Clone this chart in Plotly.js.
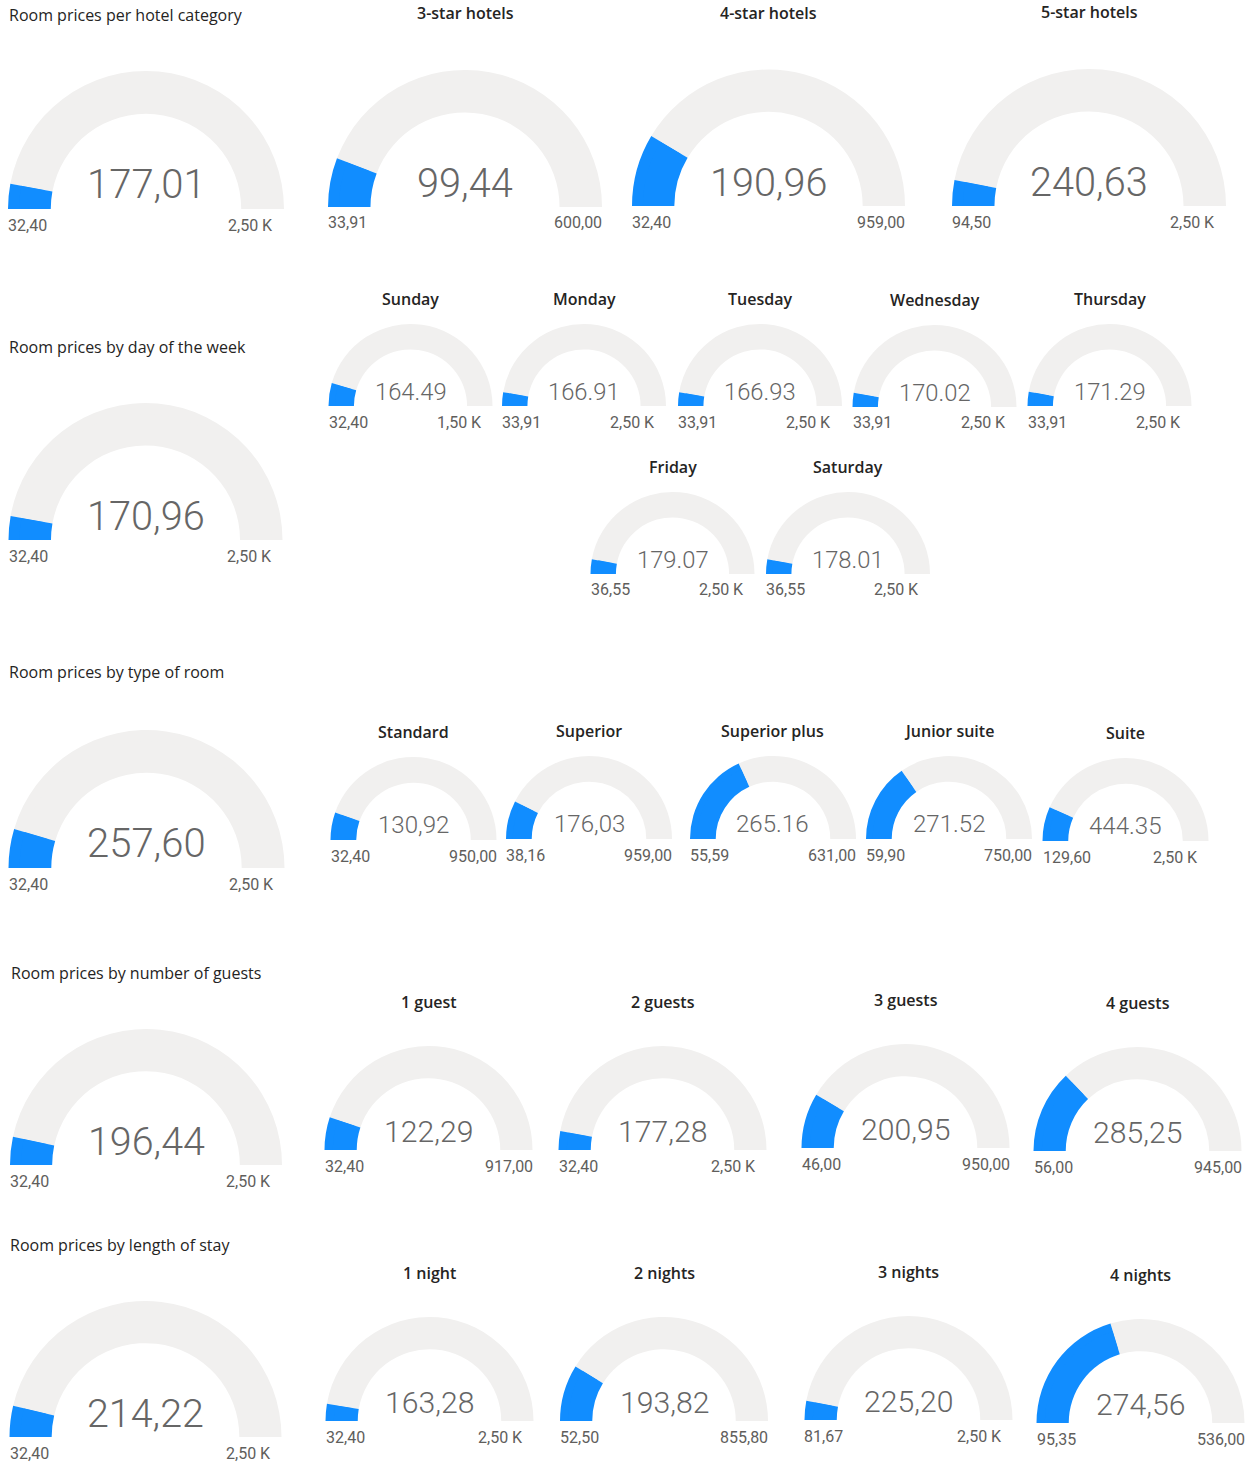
<!DOCTYPE html>
<html><head><meta charset="utf-8">
<script src="https://cdn.plot.ly/plotly-3.0.1.min.js"></script>
<style>html,body{margin:0;padding:0;background:#fff}#chart{width:1250px;height:1463px}</style>
</head><body><div id="chart"></div>
<script>
// ---------------- data ----------------
const sectionTitles = ["Room prices per hotel category", "Room prices by day of the week",
  "Room prices by type of room", "Room prices by number of guests", "Room prices by length of stay"];

const hotelLabels = ["", "3-star hotels", "4-star hotels", "5-star hotels"];
const hotelValues = [177.01, 99.44, 190.96, 240.63];
const hotelMins = [32.40, 33.91, 32.40, 94.50];
const hotelMaxs = [2500, 600, 959, 2500];
const hotelDecimal = [",", ",", ",", ","];

const dayLabels = ["", "Sunday", "Monday", "Tuesday", "Wednesday", "Thursday", "Friday", "Saturday"];
const dayValues = [170.96, 164.49, 166.91, 166.93, 170.02, 171.29, 179.07, 178.01];
const dayMins = [32.40, 32.40, 33.91, 33.91, 33.91, 33.91, 36.55, 36.55];
const dayMaxs = [2500, 1500, 2500, 2500, 2500, 2500, 2500, 2500];
const dayDecimal = [",", ".", ".", ".", ".", ".", ".", "."];

const roomLabels = ["", "Standard", "Superior", "Superior plus", "Junior suite", "Suite"];
const roomValues = [257.60, 130.92, 176.03, 265.16, 271.52, 444.35];
const roomMins = [32.40, 32.40, 38.16, 55.59, 59.90, 129.60];
const roomMaxs = [2500, 950, 959, 631, 750, 2500];
const roomDecimal = [",", ",", ",", ".", ".", "."];

const guestLabels = ["", "1 guest", "2 guests", "3 guests", "4 guests"];
const guestValues = [196.44, 122.29, 177.28, 200.95, 285.25];
const guestMins = [32.40, 32.40, 32.40, 46.00, 56.00];
const guestMaxs = [2500, 917, 2500, 950, 945];
const guestDecimal = [",", ",", ",", ",", ","];

const nightLabels = ["", "1 night", "2 nights", "3 nights", "4 nights"];
const nightValues = [214.22, 163.28, 193.82, 225.20, 274.56];
const nightMins = [32.40, 32.40, 52.50, 81.67, 95.35];
const nightMaxs = [2500, 2500, 855.80, 2500, 536];
const nightDecimal = [",", ",", ",", ",", ","];

// ---------------- layout geometry (pixels: centre x, arc bottom y, outer radius) ----------------
const W = 1250, H = 1463;
const sections = [
  { title: sectionTitles[0], tx: 9, ty: 15, subOff: 57,
    labels: hotelLabels, values: hotelValues, mins: hotelMins, maxs: hotelMaxs, dec: hotelDecimal,
    pos: [[146, 209, 138], [465, 207, 137], [768.5, 206, 136.5], [1089, 206, 137]] },
  { title: sectionTitles[1], tx: 9, ty: 347, subOff: 25,
    labels: dayLabels, values: dayValues, mins: dayMins, maxs: dayMaxs, dec: dayDecimal,
    pos: [[145.5, 540, 137], [410.5, 406, 82], [584, 406, 82], [760, 406, 82], [934.5, 407, 82],
          [1109.5, 406, 82], [672.5, 574, 82], [848, 574, 82]] },
  { title: sectionTitles[2], tx: 9, ty: 672, subOff: 25,
    labels: roomLabels, values: roomValues, mins: roomMins, maxs: roomMaxs, dec: roomDecimal,
    pos: [[146.5, 868, 138], [413.5, 840, 83], [589, 839, 83], [773, 839, 83], [949, 839, 83], [1125.5, 841, 83]] },
  { title: sectionTitles[3], tx: 11, ty: 973, subOff: 44,
    labels: guestLabels, values: guestValues, mins: guestMins, maxs: guestMaxs, dec: guestDecimal,
    pos: [[146, 1165, 136], [428.5, 1150, 104], [662.5, 1150, 104], [905.5, 1148, 104], [1137.5, 1151, 104]] },
  { title: sectionTitles[4], tx: 10, ty: 1245, subOff: 44,
    labels: nightLabels, values: nightValues, mins: nightMins, maxs: nightMaxs, dec: nightDecimal,
    pos: [[145.5, 1437, 136], [429.5, 1421, 104], [664, 1421, 104], [908.5, 1420, 104], [1140.5, 1423, 104]] }
];

const BLUE = "#118DFF", TRACK = "#F1F0EF";
const INNER = 0.69;             // wanted inner/outer radius ratio
const PLOTLY_INNER = 0.75;      // plotly's fixed ratio
const NUM_FONT = "Roboto, sans-serif";
const TXT_FONT = "Open Sans, Roboto, sans-serif";
const LBL_FONT = "Roboto, sans-serif";

function fmtEnd(v) {
  if (v >= 1000) return (v / 1000).toFixed(2).replace(".", ",") + " K";
  return v.toFixed(2).replace(".", ",");
}
function fmtVal(v, d) { return v.toFixed(2).replace(".", d); }
const px = x => x / W;
const py = y => 1 - y / H;

const data = [];
const annotations = [];

sections.forEach(sec => {
  annotations.push({ text: sec.title, x: px(sec.tx), y: py(sec.ty), xref: "paper", yref: "paper",
    xanchor: "left", yanchor: "middle", showarrow: false, xshift: -2,
    font: { family: TXT_FONT, size: 16, color: "#252423" } });
  sec.values.forEach((v, i) => {
    const [cx, bottom, R] = sec.pos[i];
    [1, INNER / PLOTLY_INNER].forEach(k => {
      const r = R * k;
      data.push({
        type: "indicator", mode: "gauge", value: v,
        domain: { x: [px(cx - r), px(cx + r)], y: [py(bottom), py(bottom - r)] },
        gauge: {
          shape: "angular",
          axis: { range: [sec.mins[i], sec.maxs[i]], visible: false },
          bar: { color: BLUE, thickness: 1, line: { width: 0 } },
          steps: [{ range: [v, sec.maxs[i]], color: TRACK, thickness: 1, line: { width: 0 } }],
          bgcolor: "rgba(0,0,0,0)", borderwidth: 0
        }
      });
    });
    // central value
    annotations.push({ text: fmtVal(v, sec.dec[i]), x: px(cx), y: py(bottom - 0.175 * R),
      xref: "paper", yref: "paper", xanchor: "center", yanchor: "middle", showarrow: false,
      font: { family: NUM_FONT, size: 0.29 * R, color: "#666666", weight: 300 } });
    // min / max
    annotations.push({ text: fmtEnd(sec.mins[i]), x: px(cx - R), y: py(bottom + 16), xshift: -2,
      xref: "paper", yref: "paper", xanchor: "left", yanchor: "middle", showarrow: false,
      font: { family: LBL_FONT, size: 16, color: "#605E5C" } });
    annotations.push({ text: fmtEnd(sec.maxs[i]), x: px(cx + R), y: py(bottom + 16),
      xshift: sec.maxs[i] >= 1000 ? -9 : 2,
      xref: "paper", yref: "paper", xanchor: "right", yanchor: "middle", showarrow: false,
      font: { family: LBL_FONT, size: 16, color: "#605E5C" } });
    if (sec.labels[i]) {
      annotations.push({ text: sec.labels[i], x: px(cx), y: py(bottom - R - sec.subOff),
        xref: "paper", yref: "paper", xanchor: "center", yanchor: "middle", showarrow: false,
        font: { family: TXT_FONT, size: 16, color: "#252423", weight: 600 } });
    }
  });
});

Plotly.newPlot("chart", data, {
  width: W, height: H, margin: { l: 0, r: 0, t: 0, b: 0 },
  paper_bgcolor: "#ffffff", plot_bgcolor: "#ffffff",
  showlegend: false, annotations: annotations
}, { staticPlot: true, displayModeBar: false });
</script></body></html>
